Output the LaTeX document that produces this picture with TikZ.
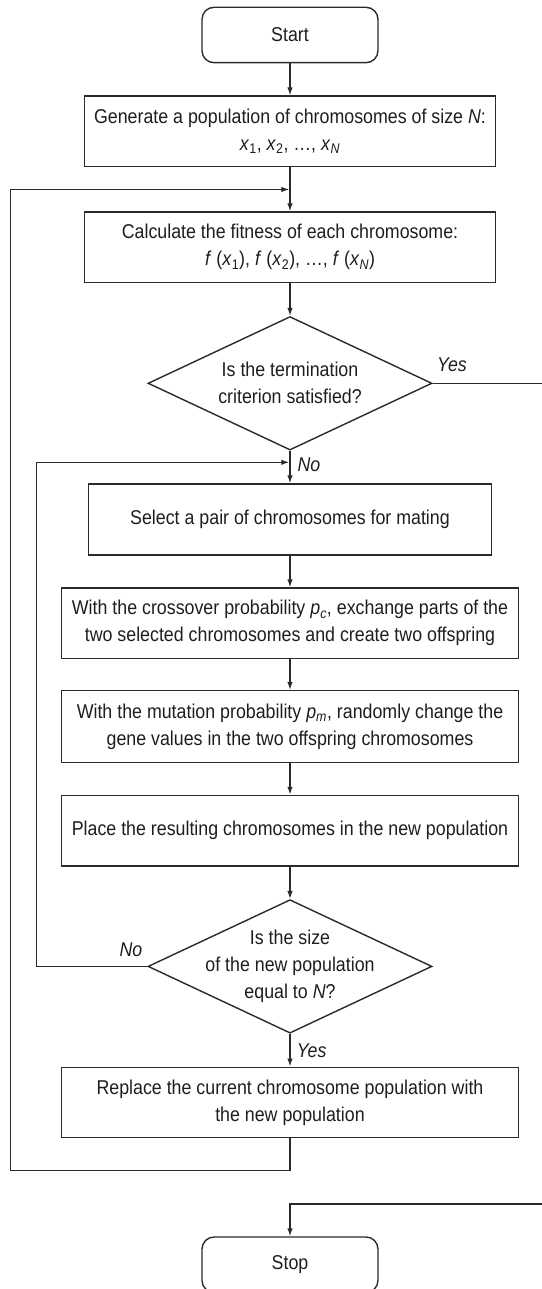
\documentclass[tikz,border=0pt]{standalone}
\usepackage{fontspec}
\setmainfont{Liberation Sans}[FakeStretch=0.89]
\usetikzlibrary{shapes.geometric,arrows.meta}
\newcommand\sbs[1]{\textsubscript{#1}}
\definecolor{linec}{HTML}{2A2A2A}
\definecolor{textc}{HTML}{1E1E1E}
\begin{document}
\begin{tikzpicture}[x=1pt,y=-1pt,
  base/.style={draw=linec, line width=1.4pt, text=textc, inner sep=0pt, align=center,
    font=\fontsize{20pt}{27pt}\selectfont},
  term/.style={base, rounded corners=12pt, minimum width=176pt, minimum height=55.4pt},
  box/.style={base, rectangle, minimum height=70.5pt},
  dec/.style={base, diamond, aspect=2.1, inner sep=-22pt, minimum width=284pt, minimum height=133.5pt},
  lab/.style={text=textc, inner sep=0pt, font=\fontsize{20pt}{24pt}\selectfont\itshape},
  arr/.style={draw=linec, line width=1.3pt, -{Latex[length=8pt,width=5.5pt]}},
  ln/.style={draw=linec, line width=1.3pt}
]
\useasboundingbox (0,0) rectangle (541,1289);

\node[term] (start) at (290,35) {Start};
\node[box, minimum width=411.5pt] (gen) at (290,131.3)
  {Generate a population of chromosomes of size \textit{N}:\\
   \textit{x}\sbs{1}, \textit{x}\sbs{2}, …, \textit{x}\sbs{\textit{N}}};
\node[box, minimum width=411.5pt] (calc) at (290,247.3)
  {Calculate the fitness of each chromosome:\\
   \textit{f} (\textit{x}\sbs{1}), \textit{f} (\textit{x}\sbs{2}), …, \textit{f} (\textit{x}\sbs{\textit{N}})};
\node[dec] (d1) at (290,383.3) {Is the termination\\criterion satisfied?};
\node[box, minimum width=402.7pt, minimum height=71pt] (sel) at (290,519.5)
  {Select a pair of chromosomes for mating};
\node[box, minimum width=457.2pt] (cross) at (290,623.3)
  {With the crossover probability \textit{p}\sbs{\textit{c}}, exchange parts of the\\
   two selected chromosomes and create two offspring};
\node[box, minimum width=457.2pt, minimum height=71.6pt] (mut) at (290,726.5)
  {With the mutation probability \textit{p}\sbs{\textit{m}}, randomly change the\\
   gene values in the two offspring chromosomes};
\node[box, minimum width=457.2pt] (place) at (290,830.7)
  {Place the resulting chromosomes in the new population};
\node[dec] (d2) at (290,966.4) {Is the size\\of the new population\\equal to \textit{N}?};
\node[box, minimum width=457.2pt] (rep) at (290,1102.5)
  {Replace the current chromosome population with\\the new population};
\node[term] (stop) at (290,1264.7) {Stop};

\node[lab] (yes1) at (452,365) {Yes};
\node[lab] (no1) at (309,465) {No};
\node[lab] (no2) at (131,949.3) {No};
\node[lab] (yes2) at (311.6,1050.7) {Yes};

\coordinate (lt) at (10.4,189.5);
\coordinate (lb) at (10.4,1170.7);
\coordinate (nl) at (36.2,462.3);
\coordinate (ye) at (560,0);
\coordinate (sin) at (290,1204);

\draw[arr] (start) -- (gen);
\draw[arr] (gen) -- (calc);
\draw[arr] (calc) -- (d1);
\draw[arr] (d1) -- (sel);
\draw[arr] (sel) -- (cross);
\draw[arr] (cross) -- (mut);
\draw[arr] (mut) -- (place);
\draw[arr] (place) -- (d2);
\draw[arr] (d2) -- (rep);
\draw[arr] (rep.south) -- (rep.south |- lb) -- (lb) -- (lt) -- ([xshift=-0.7pt]lt -| gen.south);
\draw[arr] (d2.west) -- (d2.west -| nl) -- (nl) -- ([xshift=-0.7pt]nl -| sel.north);
\draw[arr] (d1.east) -- (d1.east -| ye) -- (ye |- sin) -- (sin) -- (stop.north);
\end{tikzpicture}
\end{document}
